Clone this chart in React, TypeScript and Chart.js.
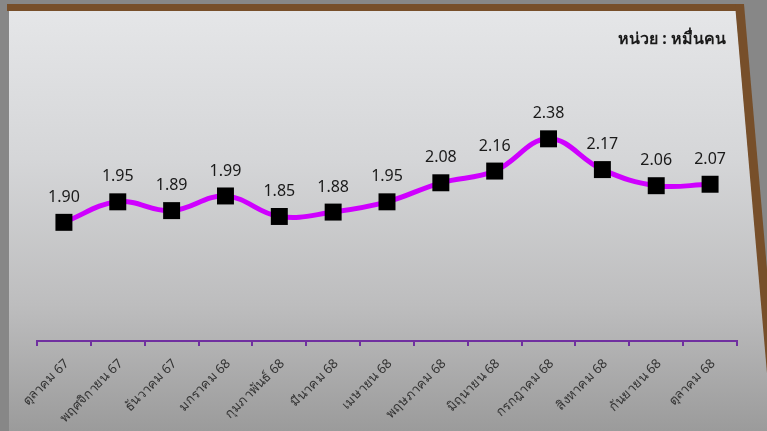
import React, { useEffect, useRef } from "react";
import { Chart, registerables } from "chart.js";

Chart.register(...registerables);

const categories = [
  "ตุลาคม 67",
  "พฤศจิกายน 67",
  "ธันวาคม 67",
  "มกราคม 68",
  "กุมภาพันธ์ 68",
  "มีนาคม 68",
  "เมษายน 68",
  "พฤษภาคม 68",
  "มิถุนายน 68",
  "กรกฎาคม 68",
  "สิงหาคม 68",
  "กันยายน 68",
  "ตุลาคม 68",
];

// Heights of the plotted points (the first point sits lower than its label says)
const plottedValues = [1.81, 1.95, 1.89, 1.99, 1.85, 1.88, 1.95, 2.08, 2.16, 2.38, 2.17, 2.06, 2.07];

// Value labels exactly as printed in the picture
const valueLabels = ["1.90", "1.95", "1.89", "1.99", "1.85", "1.88", "1.95", "2.08", "2.16", "2.38", "2.17", "2.06", "2.07"];

const unitLabel = "หน่วย : หมื่นคน";

const W = 767;
const H = 431;

const backgroundPlugin = {
  id: "panelBackground",
  beforeDraw(chart: any) {
    const ctx = chart.ctx as CanvasRenderingContext2D;
    ctx.save();
    ctx.fillStyle = "#878787";
    ctx.fillRect(0, 0, W, H);
    // panel
    const g = ctx.createLinearGradient(0, 11, 0, H);
    g.addColorStop(0, "#e5e6e8");
    g.addColorStop(0.35, "#d5d6d8");
    g.addColorStop(0.7, "#bdbdbe");
    g.addColorStop(1, "#9b9b9b");
    ctx.fillStyle = g;
    ctx.beginPath();
    ctx.moveTo(9, 11);
    ctx.lineTo(736, 11);
    ctx.lineTo(773, H);
    ctx.lineTo(9, H);
    ctx.closePath();
    ctx.fill();
    // brown frame (top + slanted right)
    ctx.fillStyle = "#774f2a";
    ctx.fillRect(7, 4, 737, 7);
    ctx.beginPath();
    ctx.moveTo(735, 4);
    ctx.lineTo(744, 4);
    ctx.lineTo(781, H);
    ctx.lineTo(772, H);
    ctx.closePath();
    ctx.fill();
    // unit label
    ctx.fillStyle = "#1a1a1a";
    ctx.font = "bold 16px 'Noto Sans', 'DejaVu Sans', sans-serif";
    ctx.textAlign = "right";
    ctx.textBaseline = "middle";
    ctx.fillText(unitLabel, 726, 39);
    ctx.restore();
  },
};

const valueLabelPlugin = {
  id: "valueLabels",
  afterDatasetsDraw(chart: any) {
    const ctx = chart.ctx as CanvasRenderingContext2D;
    const meta = chart.getDatasetMeta(0);
    ctx.save();
    ctx.fillStyle = "#1a1a1a";
    ctx.font = "16px 'Noto Sans', 'DejaVu Sans', sans-serif";
    ctx.textAlign = "center";
    ctx.textBaseline = "bottom";
    meta.data.forEach((pt: any, i: number) => {
      ctx.fillText(valueLabels[i], pt.x, pt.y - 17);
    });
    ctx.restore();
  },
};

export default function App() {
  const canvasRef = useRef<HTMLCanvasElement | null>(null);

  useEffect(() => {
    const canvas = canvasRef.current;
    if (!canvas) return;
    const chart = new Chart(canvas, {
      type: "line",
      data: {
        labels: categories,
        datasets: [
          {
            data: plottedValues,
            borderColor: "#cf00ff",
            borderWidth: 5,
            tension: 0.4,
            pointStyle: "rect",
            pointRadius: 12,
            pointHoverRadius: 12,
            pointBackgroundColor: "#000000",
            pointBorderColor: "#000000",
            pointBorderWidth: 0,
            fill: false,
          },
        ],
      },
      options: {
        responsive: false,
        animation: false,
        devicePixelRatio: 1,
        layout: { padding: { left: 37, right: 30, top: 48, bottom: 0 } },
        plugins: {
          legend: { display: false },
          tooltip: { enabled: false },
        },
        scales: {
          x: {
            offset: true,
            afterFit: (s: any) => {
              s.height = 90;
            },
            grid: {
              display: true,
              offset: true,
              drawOnChartArea: false,
              drawTicks: true,
              tickLength: 5,
              color: "#7030a0",
              lineWidth: 2,
            },
            border: { display: true, color: "#7030a0", width: 2 },
            ticks: {
              minRotation: 45,
              maxRotation: 45,
              autoSkip: false,
              color: "#333333",
              padding: 10,
              labelOffset: 3,
              font: { family: "'Noto Sans', 'DejaVu Sans', sans-serif", size: 13 },
            },
          },
          y: {
            display: false,
            min: 1,
            max: 3,
          },
        },
      },
      plugins: [backgroundPlugin, valueLabelPlugin],
    });
    return () => chart.destroy();
  }, []);

  return (
    <div style={{ position: "fixed", left: 0, top: 0, width: W, height: H }}>
      <canvas ref={canvasRef} width={W} height={H} style={{ display: "block", width: W, height: H }} />
    </div>
  );
}
